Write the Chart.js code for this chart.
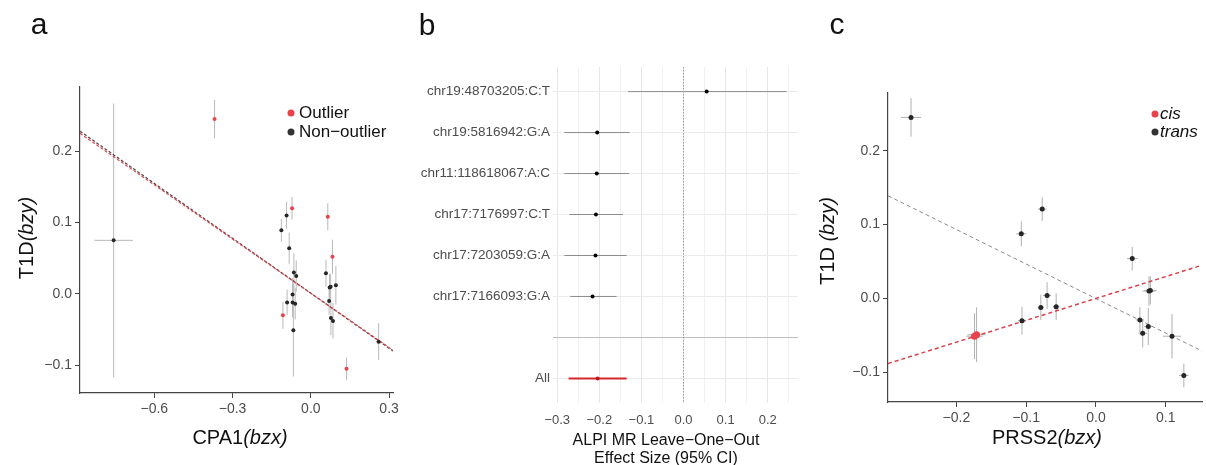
<!DOCTYPE html>
<html>
<head>
<meta charset="utf-8">
<script src="https://cdn.jsdelivr.net/npm/chart.js@4.4.0/dist/chart.umd.min.js"></script>
<style>
  body { margin: 0; background: #fff; width: 1206px; height: 465px; overflow: hidden; position: relative;
         font-family: "Liberation Sans", Arial, sans-serif; }
  canvas { position: absolute; left: 0; top: 0; }
  .t { position: absolute; white-space: nowrap; transform: translate(-50%, -50%); color: #111; }
  .ylab { transform: translate(-50%, -50%) rotate(-90deg); }
  .letter { font-size: 30px; }
  .title { font-size: 20px; }
  .leg { position: absolute; font-size: 17px; color: #111; white-space: nowrap; transform: translateY(-50%); }
  .dot { position: absolute; width: 7px; height: 7px; border-radius: 50%; transform: translate(-50%, -50%); }
</style>
</head>
<body>
<canvas id="chartA" width="1206" height="465"></canvas>
<canvas id="chartB" width="1206" height="465"></canvas>
<canvas id="chartC" width="1206" height="465"></canvas>

<div class="t letter" style="left:39px;top:24px">a</div>
<div class="t letter" style="left:427px;top:25px">b</div>
<div class="t letter" style="left:837px;top:24px">c</div>

<div class="t title ylab" style="left:26px;top:238px">T1D<i>(bzy)</i></div>
<div class="t title" style="left:240px;top:437px">CPA1<i>(bzx)</i></div>
<div class="t" style="left:666px;top:440px;font-size:16px">ALPI MR Leave&minus;One&minus;Out</div>
<div class="t" style="left:666px;top:458px;font-size:16px">Effect Size (95% CI)</div>
<div class="t title ylab" style="left:827px;top:241px">T1D <i>(bzy)</i></div>
<div class="t title" style="left:1047px;top:437px">PRSS2<i>(bzx)</i></div>

<div class="dot" style="left:291px;top:113px;background:#e8434b"></div>
<div class="leg" style="left:299px;top:113px">Outlier</div>
<div class="dot" style="left:291px;top:132px;background:#333"></div>
<div class="leg" style="left:299px;top:132px">Non&minus;outlier</div>
<div class="dot" style="left:1155px;top:114px;background:#e8434b"></div>
<div class="leg" style="left:1160px;top:114px"><i>cis</i></div>
<div class="dot" style="left:1155px;top:132px;background:#333"></div>
<div class="leg" style="left:1160px;top:132px"><i>trans</i></div>

<script>
const RED = '#e8434b', DARK = '#262626', BAR = '#b9b9b9';
const FONT = '"Liberation Sans", Arial, sans-serif';

// ---- panel a: CPA1 ----
const aX = [-0.756, -0.369, -0.113, -0.093, -0.072, -0.083, -0.065, -0.056, -0.070, -0.091, -0.070, -0.060, -0.107,
            -0.067, 0.065, 0.083, 0.058, 0.072, 0.076, 0.096, 0.070, 0.077, 0.085, 0.260, 0.137];
const aY = [0.075, 0.245, 0.089, 0.110, 0.120, 0.064, 0.030, 0.025, -0.001, -0.012, -0.012, -0.014, -0.030,
            -0.051, 0.108, 0.052, 0.029, 0.009, 0.010, 0.012, -0.010, -0.034, -0.038, -0.067, -0.105];
const aYerr = [0.192, 0.027, 0.016, 0.019, 0.016, 0.022, 0.027, 0.022, 0.023, 0.018, 0.021, 0.022, 0.019,
               0.065, 0.019, 0.024, 0.019, 0.019, 0.018, 0.027, 0.019, 0.024, 0.025, 0.026, 0.016];
const aXerr = [0.074, 0, 0, 0, 0, 0, 0, 0, 0, 0, 0, 0, 0,
               0, 0, 0, 0, 0, 0, 0, 0, 0, 0, 0.01, 0];
const aOutlier = [0, 1, 0, 0, 1, 0, 0, 0, 0, 0, 0, 0, 1, 0, 1, 1, 0, 0, 0, 0, 0, 0, 0, 0, 1];
const aLineX = [-0.885, 0.315];
const aLineRed = [0.225, -0.079];
const aLineDark = [0.228, -0.080];
const aXTicks = [-0.6, -0.3, 0.0, 0.3];
const aYTicks = [-0.1, 0.0, 0.1, 0.2];

// ---- panel b: ALPI leave-one-out ----
const bRows = ['chr19:48703205:C:T', 'chr19:5816942:G:A', 'chr11:118618067:A:C', 'chr17:7176997:C:T',
               'chr17:7203059:G:A', 'chr17:7166093:G:A', '', 'All'];
const bEst = [0.055, -0.205, -0.206, -0.208, -0.209, -0.216, null, -0.204];
const bLo  = [-0.132, -0.283, -0.283, -0.271, -0.283, -0.269, null, -0.273];
const bHi  = [0.245, -0.128, -0.129, -0.144, -0.135, -0.159, null, -0.135];
const bXTicks = [-0.3, -0.25, -0.2, -0.15, -0.1, -0.05, 0, 0.05, 0.1, 0.15, 0.2, 0.25];

// ---- panel c: PRSS2 ----
const cX = [-0.265, -0.077, -0.107, 0.052, 0.076, 0.078, -0.070, -0.079, -0.057, -0.106, -0.171, -0.174,
            0.063, 0.067, 0.075, 0.109, 0.126];
const cY = [0.245, 0.121, 0.0875, 0.054, 0.010, 0.011, 0.004, -0.012, -0.011, -0.030, -0.049, -0.051,
            -0.029, -0.047, -0.038, -0.051, -0.104];
const cYerr = [0.026, 0.016, 0.017, 0.016, 0.020, 0.019, 0.018, 0.017, 0.018, 0.019, 0.037, 0.031,
               0.017, 0.019, 0.025, 0.030, 0.016];
const cXerr = [0.0145, 0.006, 0.007, 0.0075, 0.0095, 0.009, 0.006, 0.0045, 0.005, 0.006, 0.013, 0.012,
               0.006, 0.006, 0.006, 0.013, 0.007];
const cCis = [0, 0, 0, 0, 0, 0, 0, 0, 0, 0, 1, 1, 0, 0, 0, 0, 0];
const cLineX = [-0.298, 0.152];
const cLineCis = [-0.088, 0.045];
const cLineTrans = [0.139, -0.071];
const cXTicks = [-0.2, -0.1, 0.0, 0.1];
const cYTicks = [-0.1, 0.0, 0.1, 0.2];

const fmt = v => (Math.abs(v) < 1e-9 ? 0 : v).toFixed(1).replace('-', '\u2212');

function seg(data, color, width, dash, order) {
    return {
        type: 'line', data: data, borderColor: color, borderWidth: width || 1, borderDash: dash || [],
        pointRadius: 0, fill: false, tension: 0, order: order === undefined ? 3 : order
    };
}

function errorBars(xs, ys, xerr, yerr, color) {
    let sets = [];
    xs.forEach((x, i) => {
        sets.push(seg([{x: x, y: ys[i] - yerr[i]}, {x: x, y: ys[i] + yerr[i]}], color));
        if (xerr[i] > 0) {
            sets.push(seg([{x: x - xerr[i], y: ys[i]}, {x: x + xerr[i], y: ys[i]}], color));
        }
    });
    return sets;
}

function points(xs, ys, flags, want, color, radius) {
    return {
        type: 'scatter',
        data: xs.map((x, i) => ({x: x, y: ys[i]})).filter((p, i) => flags[i] === want),
        backgroundColor: color, borderColor: color, pointRadius: radius, borderWidth: 0, order: 0
    };
}

function line(xs, ys, color, width, dash) {
    return seg(xs.map((x, i) => ({x: x, y: ys[i]})), color, width, dash, 1);
}

function classicAxis(min, max, ticks, isX) {
    return {
        type: 'linear', min: min, max: max,
        afterBuildTicks: s => { s.ticks = ticks.map(v => ({value: v})); },
        afterFit: s => { if (isX) s.height = 30; else s.width = 50; },
        grid: {display: true, drawOnChartArea: false, drawTicks: true, tickLength: 5, tickColor: '#444', tickWidth: 1},
        border: {display: true, color: '#444', width: 1.2},
        ticks: {font: {family: FONT, size: 14}, color: '#4d4d4d', padding: 3, maxRotation: 0, autoSkip: false,
                callback: v => fmt(v)}
    };
}

const common = {
    responsive: false, animation: false, events: [], devicePixelRatio: 1,
};
const noPlugins = {legend: {display: false}, tooltip: {enabled: false}};

// panel a
new Chart(document.getElementById('chartA'), {
    type: 'scatter',
    data: {
        datasets: [
            points(aX, aY, aOutlier, 1, RED, 2),
            points(aX, aY, aOutlier, 0, DARK, 2),
            line(aLineX, aLineRed, '#d9484e', 1.2, [3, 2]),
            line(aLineX, aLineDark, '#5a4040', 1.2, [3, 2]),
            ...errorBars(aX, aY, aXerr, aYerr, BAR)
        ]
    },
    options: {
        ...common,
        layout: {padding: {left: 30, right: 813, top: 87, bottom: 42}},
        plugins: noPlugins,
        scales: {
            x: classicAxis(-0.885, 0.315, aXTicks, true),
            y: classicAxis(-0.139, 0.29, aYTicks, false)
        }
    }
});

// panel b
let bSets = [];
bRows.forEach((r, i) => {
    if (bEst[i] === null) return;
    const isAll = r === 'All';
    bSets.push(seg([{x: bLo[i], y: i + 1}, {x: bHi[i], y: i + 1}], isAll ? '#d7262c' : '#8c8c8c', isAll ? 2 : 1, [], 2));
});
bSets.push({
    type: 'scatter',
    data: bRows.map((r, i) => ({x: bEst[i], y: i + 1})).filter(p => p.x !== null),
    backgroundColor: bRows.filter((r, i) => bEst[i] !== null).map(r => r === 'All' ? '#c0161c' : '#000'),
    pointRadius: 2, borderWidth: 0, order: 0
});
bSets.push(seg([{x: 0, y: 0.4}, {x: 0, y: 8.6}], '#9a9a9a', 1, [1.5, 1.5], 1));

new Chart(document.getElementById('chartB'), {
    type: 'scatter',
    data: {datasets: bSets},
    options: {
        ...common,
        layout: {padding: {left: 413, right: 408, top: 67, bottom: 32}},
        plugins: noPlugins,
        scales: {
            x: {
                type: 'linear', min: -0.31, max: 0.272,
                afterBuildTicks: s => { s.ticks = bXTicks.map(v => ({value: v})); },
                afterFit: s => { s.height = 30; },
                grid: {display: true, drawTicks: false,
                       color: ctx => (ctx.index % 2 === 0 ? '#e6e6e6' : '#f1f1f1'), lineWidth: 1},
                border: {display: false},
                ticks: {font: {family: FONT, size: 13}, color: '#4d4d4d', padding: 10, maxRotation: 0, autoSkip: false,
                        callback: (v, i) => (i % 2 === 0 ? fmt(v) : '')}
            },
            y: {
                type: 'linear', min: 0.4, max: 8.6, reverse: true,
                afterBuildTicks: s => { s.ticks = bRows.map((r, i) => ({value: i + 1})); },
                afterFit: s => { s.width = 140; },
                grid: {display: true, drawTicks: false,
                       color: ctx => (ctx.tick && ctx.tick.value === 7 ? '#bdbdbd' : '#ebebeb'), lineWidth: 1},
                border: {display: false},
                ticks: {font: {family: FONT, size: 13.5}, color: '#4d4d4d', padding: 3, autoSkip: false,
                        callback: v => bRows[Math.round(v) - 1]}
            }
        }
    }
});

// panel c
new Chart(document.getElementById('chartC'), {
    type: 'scatter',
    data: {
        datasets: [
            points(cX, cY, cCis, 1, RED, 3.5),
            points(cX, cY, cCis, 0, DARK, 2.5),
            line(cLineX, cLineCis, '#d9434d', 1.5, [4, 3]),
            line(cLineX, cLineTrans, '#8a8a8a', 1, [4, 3]),
            ...errorBars(cX, cY, cXerr, cYerr, '#b0b0b0')
        ]
    },
    options: {
        ...common,
        layout: {padding: {left: 838, right: 3, top: 93, bottom: 33}},
        plugins: noPlugins,
        scales: {
            x: classicAxis(-0.298, 0.152, cXTicks, true),
            y: classicAxis(-0.140, 0.278, cYTicks, false)
        }
    }
});
</script>
</body>
</html>
